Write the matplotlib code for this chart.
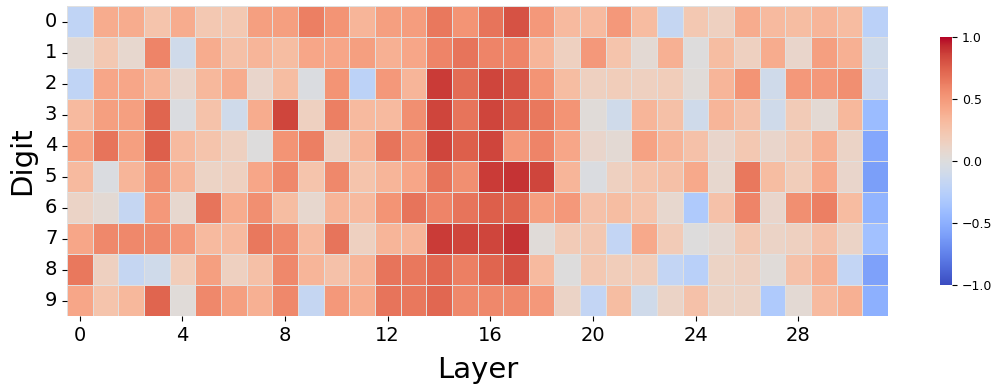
#-*- coding: utf-8 -*-

"""
  Heatmap of digit vs layer
"""

import numpy as np
import matplotlib
matplotlib.use('Agg')
import matplotlib.pyplot as plt
import seaborn as sns


# Data
digits = [str(d) for d in range(10)]
layers = list(range(32))
xtick_pos = [0, 4, 8, 12, 16, 20, 24, 28]

d0 = [-0.20, 0.40, 0.40, 0.25, 0.40, 0.22, 0.22, 0.47, 0.47, 0.62, 0.53, 0.35, 0.47, 0.48, 0.65, 0.53,
      0.67, 0.80, 0.50, 0.32, 0.32, 0.50, 0.31, -0.17, 0.22, 0.15, 0.40, 0.32, 0.30, 0.35, 0.31, -0.23]
d1 = [0.05, 0.22, 0.08, 0.60, -0.10, 0.40, 0.28, 0.35, 0.30, 0.43, 0.43, 0.47, 0.38, 0.43, 0.60, 0.67,
      0.60, 0.60, 0.35, 0.15, 0.50, 0.25, 0.05, 0.38, 0.00, 0.30, 0.15, 0.40, 0.10, 0.47, 0.38, -0.10]
d2 = [-0.20, 0.43, 0.43, 0.35, 0.10, 0.33, 0.40, 0.10, 0.30, -0.02, 0.53, -0.22, 0.50, 0.35, 0.88, 0.70,
      0.85, 0.80, 0.53, 0.30, 0.15, 0.18, 0.15, 0.18, 0.03, 0.35, 0.53, -0.10, 0.50, 0.50, 0.55, -0.13]
d3 = [0.32, 0.47, 0.47, 0.73, -0.02, 0.26, -0.10, 0.40, 0.85, 0.15, 0.62, 0.32, 0.32, 0.55, 0.85, 0.67,
      0.85, 0.77, 0.65, 0.53, 0.03, -0.10, 0.35, 0.28, -0.10, 0.35, 0.27, -0.10, 0.20, 0.05, 0.33, -0.42]
d4 = [0.46, 0.67, 0.47, 0.75, 0.32, 0.25, 0.15, 0.00, 0.53, 0.62, 0.15, 0.35, 0.67, 0.55, 0.85, 0.75,
      0.85, 0.50, 0.60, 0.43, 0.10, 0.05, 0.46, 0.35, 0.27, 0.10, 0.22, 0.10, 0.20, 0.38, 0.12, -0.55]
d5 = [0.32, -0.02, 0.35, 0.55, 0.35, 0.13, 0.15, 0.43, 0.58, 0.25, 0.58, 0.25, 0.35, 0.43, 0.67, 0.55,
      0.88, 0.90, 0.85, 0.35, -0.02, 0.15, 0.25, 0.28, 0.42, 0.08, 0.65, 0.30, 0.18, 0.42, 0.10, -0.60]
d6 = [0.12, 0.05, -0.17, 0.50, 0.08, 0.67, 0.40, 0.55, 0.30, 0.08, 0.35, 0.32, 0.53, 0.67, 0.60, 0.67,
      0.75, 0.73, 0.47, 0.50, 0.27, 0.30, 0.25, 0.08, -0.30, 0.27, 0.60, 0.10, 0.55, 0.62, 0.31, -0.47]
d7 = [0.43, 0.58, 0.58, 0.58, 0.50, 0.32, 0.32, 0.65, 0.58, 0.32, 0.67, 0.15, 0.35, 0.35, 0.88, 0.85,
      0.85, 0.90, 0.03, 0.20, 0.23, -0.18, 0.42, 0.20, 0.00, 0.07, 0.22, 0.12, 0.15, 0.27, 0.12, -0.38]
d8 = [0.65, 0.15, -0.17, -0.10, 0.18, 0.47, 0.15, 0.28, 0.58, 0.35, 0.27, 0.35, 0.67, 0.65, 0.72, 0.62,
      0.73, 0.80, 0.32, 0.00, 0.22, 0.18, 0.18, -0.18, -0.25, 0.13, 0.15, 0.03, 0.27, 0.38, -0.18, -0.58]
d9 = [0.43, 0.25, 0.33, 0.73, 0.03, 0.58, 0.47, 0.38, 0.58, -0.17, 0.50, 0.40, 0.67, 0.65, 0.72, 0.58,
      0.58, 0.58, 0.50, 0.12, -0.18, 0.30, -0.10, 0.12, 0.27, 0.13, 0.13, -0.30, 0.05, 0.32, 0.38, -0.50]

data = np.array([d0, d1, d2, d3, d4, d5, d6, d7, d8, d9])

# Figure
fig = plt.figure(figsize=(9.97, 3.89), dpi=100)
ax = fig.add_axes([67/997, 73/389, 821/997, 310/389])
cax = fig.add_axes([940/997, 104/389, 12/997, 248/389])

sns.heatmap(data, ax=ax, cbar_ax=cax, cmap='coolwarm', vmin=-1, vmax=1,
            linewidths=0.5, linecolor='#e0e0e0')

ax.set_xticks([p + 0.5 for p in xtick_pos])
ax.set_xticklabels([str(p) for p in xtick_pos], fontsize=14, rotation=0)
ax.set_yticks([i + 0.5 for i in range(10)])
ax.set_yticklabels(digits, fontsize=14, rotation=0)
ax.set_xlabel('Layer', fontsize=21, labelpad=8)
ax.set_ylabel('Digit', fontsize=21, labelpad=6)

cax.set_yticks([-1.0, -0.5, 0.0, 0.5, 1.0])
cax.tick_params(labelsize=9)

plt.savefig('out.png', dpi=100)
